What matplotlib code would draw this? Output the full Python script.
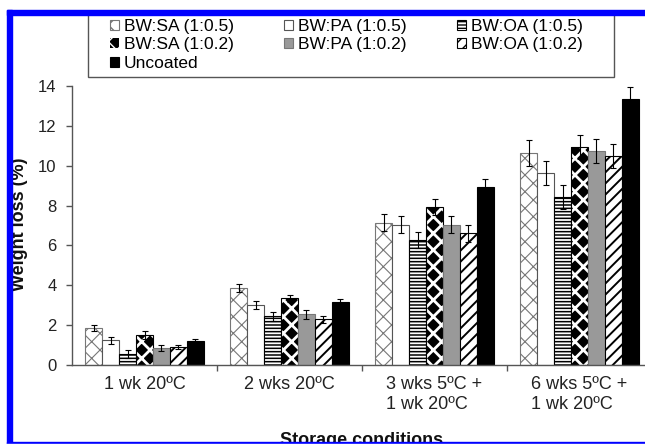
import matplotlib
matplotlib.use('Agg')
from matplotlib import pyplot
from matplotlib.patches import Rectangle
import numpy as np

pyplot.rcParams['font.family'] = ['Liberation Sans', 'DejaVu Sans']

conditions = ['1 wk 20ºC', '2 wks 20ºC', '3 wks 5ºC +\n1 wk 20ºC', '6 wks 5ºC +\n1 wk 20ºC']
series = ['BW:SA (1:0.5)', 'BW:PA (1:0.5)', 'BW:OA (1:0.5)',
          'BW:SA (1:0.2)', 'BW:PA (1:0.2)', 'BW:OA (1:0.2)', 'Uncoated']

# weight loss (%) per storage condition
sa_05 = [1.85, 3.85, 7.15, 10.65]
pa_05 = [1.25, 3.0, 7.05, 9.65]
oa_05 = [0.55, 2.45, 6.25, 8.45]
sa_02 = [1.5, 3.35, 7.95, 10.95]
pa_02 = [0.85, 2.55, 7.05, 10.75]
oa_02 = [0.9, 2.3, 6.6, 10.5]
uncoated = [1.2, 3.15, 8.95, 13.35]

# error bars (+/-)
sa_05_err = [0.15, 0.2, 0.45, 0.65]
pa_05_err = [0.18, 0.2, 0.45, 0.6]
oa_05_err = [0.18, 0.22, 0.4, 0.6]
sa_02_err = [0.2, 0.18, 0.4, 0.6]
pa_02_err = [0.15, 0.22, 0.45, 0.6]
oa_02_err = [0.12, 0.18, 0.45, 0.6]
uncoated_err = [0.12, 0.15, 0.4, 0.6]

values = [sa_05, pa_05, oa_05, sa_02, pa_02, oa_02, uncoated]
errors = [sa_05_err, pa_05_err, oa_05_err, sa_02_err, pa_02_err, oa_02_err, uncoated_err]

# face, edge, hatch, hatch linewidth
styles = [
    ('white', '#777777', 'xx', 0.8),
    ('white', '#555555', None, 0.6),
    ('white', 'black', '-----', 1.1),
    ('black', 'white', 'xx', 2.0),
    ('#999999', '#777777', None, 0.6),
    ('white', 'black', '///', 1.4),
    ('black', 'black', None, 0.6),
]


def hatched_bar(ax, pos, vals, width, face, edge, hatch, hlw, lw=0.8):
    with pyplot.rc_context({'hatch.linewidth': hlw}):
        bars = ax.bar(pos, vals, width, color=face, edgecolor=edge, hatch=hatch, linewidth=lw, zorder=2)
    for p in bars:
        if hasattr(p, 'set_hatch_linewidth'):
            p.set_hatch_linewidth(hlw)
    return bars


fig = pyplot.figure(figsize=(6.45, 4.45), dpi=100)
ax = fig.add_axes([72 / 645, 80 / 445, 580 / 645, 279 / 445])

x = np.arange(len(conditions))
width = 0.117
handles = []
for i, (vals, errs) in enumerate(zip(values, errors)):
    face, edge, hatch, hlw = styles[i]
    pos = x + (i - 3) * width
    if face == 'black' and edge == 'white':
        bars = hatched_bar(ax, pos, vals, width, face, edge, hatch, hlw, lw=0)
        ax.bar(pos, vals, width, fill=False, edgecolor='black', linewidth=0.8, zorder=2)
    else:
        bars = hatched_bar(ax, pos, vals, width, face, edge, hatch, hlw)
    ax.errorbar(pos, vals, yerr=errs, fmt='none', ecolor='black', elinewidth=0.8,
                capsize=2.5, capthick=0.8, zorder=3)
    handles.append(bars)

ax.set_xlim(-0.5, 3.5)
ax.set_ylim(0, 14)
ax.set_yticks(np.arange(0, 15, 2))
ax.set_xticks(x)
ax.set_xticklabels(conditions, fontsize=13, multialignment='left', color='#222222', linespacing=1.25)
ax.set_xticks([0.5, 1.5, 2.5], minor=True)
ax.tick_params(axis='x', which='major', length=0, pad=8)
ax.tick_params(axis='x', which='minor', length=4, width=1, color='#555555')
ax.tick_params(axis='y', length=4, width=1, pad=7, labelsize=12, color='#555555', labelcolor='#222222')
for side in ['top', 'right']:
    ax.spines[side].set_visible(False)
for side in ['left', 'bottom']:
    ax.spines[side].set_color('#555555')
    ax.spines[side].set_linewidth(1)

fig.text(20 / 645, 1 - 224 / 445, 'Weight loss (%)', rotation=90, ha='center', va='center',
         fontsize=13, fontweight='bold', color='#111111')
fig.text(362 / 645, 1 - 432 / 445, 'Storage conditions', ha='center', va='top',
         fontsize=13, fontweight='bold', color='#111111')

order = [0, 3, 6, 1, 4, 2, 5]
fig.legend([handles[k] for k in order], [series[k] for k in order], ncol=3, loc='upper left',
           bbox_to_anchor=(110 / 645, 1 - 19 / 445), frameon=False, fontsize=12.5,
           handlelength=0.5, handleheight=0.5, handletextpad=0.3, columnspacing=2.9,
           labelspacing=0.2, borderpad=0, borderaxespad=0)
fig.add_artist(Rectangle((88 / 645, 1 - 77 / 445), 526 / 645, 65 / 445, transform=fig.transFigure,
                         fill=False, edgecolor='#555555', linewidth=1))

# blue frame around the picture
blue = '#0000ff'
fig.add_artist(Rectangle((7 / 645, 1 / 445), 5 / 645, 434 / 445, transform=fig.transFigure,
                         color=blue, zorder=10))
fig.add_artist(Rectangle((7 / 645, 1 - 15 / 445), 638 / 645, 5 / 445, transform=fig.transFigure,
                         color=blue, zorder=10))
fig.add_artist(Rectangle((7 / 645, 1 / 445), 638 / 645, 2 / 445, transform=fig.transFigure,
                         color=blue, zorder=10))
fig.add_artist(Rectangle((0, 0), 1, 1 / 445, transform=fig.transFigure, color='white', zorder=10))

fig.savefig('out.png', dpi=100)
